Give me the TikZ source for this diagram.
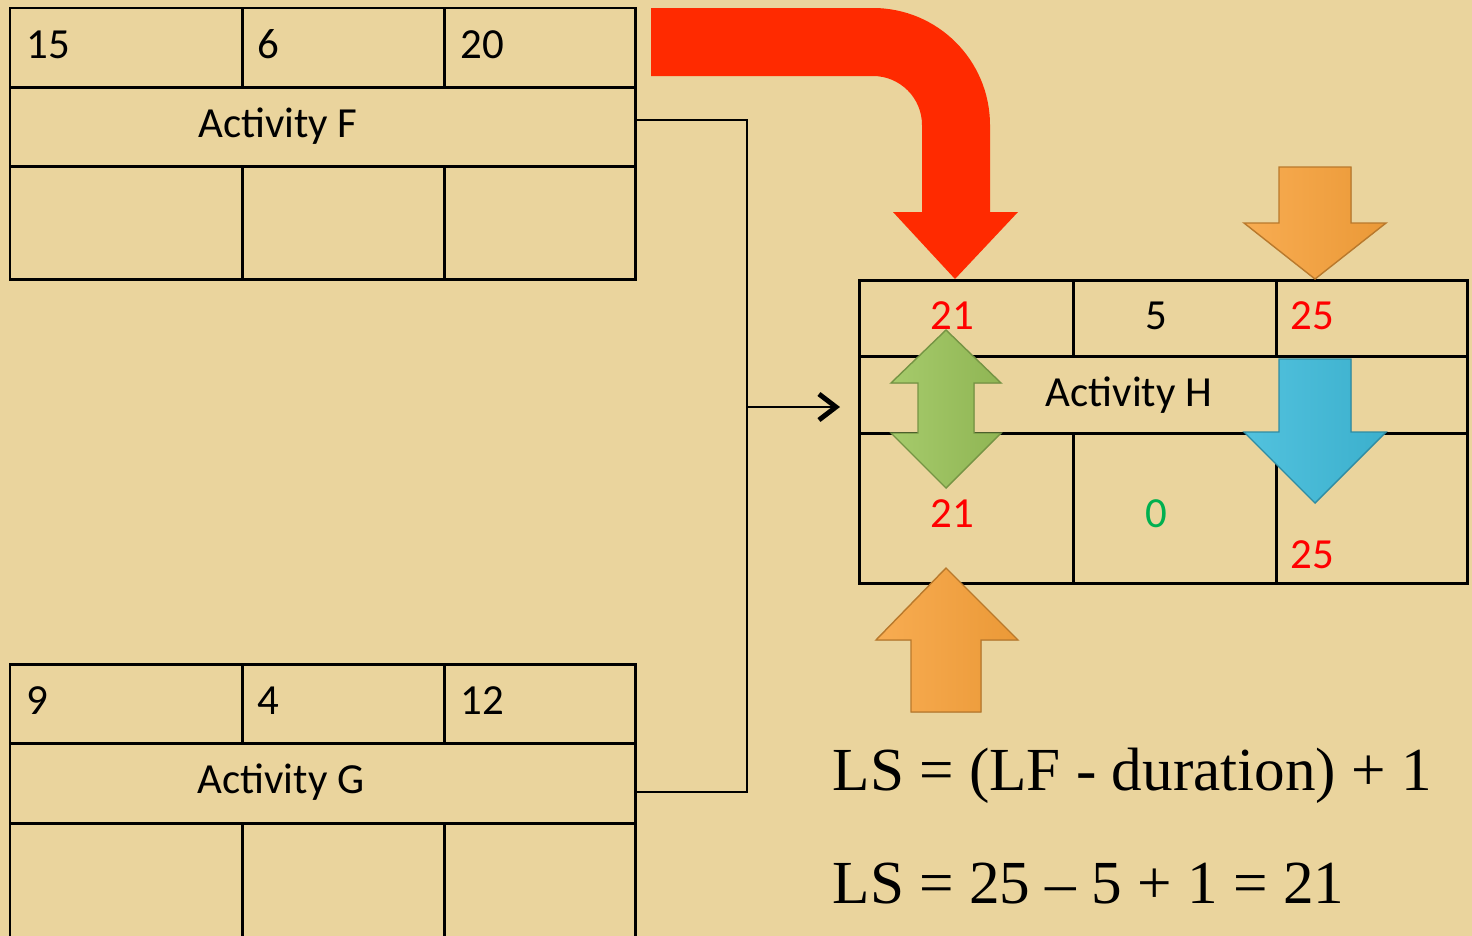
\documentclass[tikz,border=0pt]{standalone}
\usepackage{fontspec}
\setmainfont{Liberation Serif}
\newfontfamily\boxfont{Carlito}
\usetikzlibrary{arrows.meta,positioning}
\definecolor{Paper}{HTML}{EAD49D}
\definecolor{FlowRed}{HTML}{FF2A00}
\definecolor{CueOrange}{HTML}{F7A13A}
\definecolor{CueBlue}{HTML}{3FBBDA}
\definecolor{CueGreen}{HTML}{9CC55B}
\definecolor{NumRed}{HTML}{FF0000}
\definecolor{NumGreen}{HTML}{00B050}

\begin{document}
\begin{tikzpicture}[
  x=0.01cm,y=0.01cm,
  cell/.style={draw=black,line width=0.85pt,inner sep=0pt,outer sep=0pt,minimum height=0.79cm},
  num/.style={inner sep=0pt,font=\boxfont\fontsize{12.2}{14}\selectfont},
  act/.style={inner sep=0pt,anchor=base,font=\boxfont\fontsize{12.2}{14}\selectfont},
  eqn/.style={inner sep=0pt,anchor=base west,font=\fontsize{17.4}{21}\selectfont},
  link/.style={line width=0.55pt,draw=black},
  cueorange/.style={left color=CueOrange!88!white,right color=CueOrange!95!black,draw=CueOrange!75!black,line width=0.4pt},
  cueblue/.style={left color=CueBlue!90!white,right color=CueBlue!94!black,draw=CueBlue!75!black,line width=0.4pt},
  cuegreen/.style={left color=CueGreen!90!white,right color=CueGreen!92!black,draw=CueGreen!75!black,line width=0.4pt}
]
\useasboundingbox (0,0) rectangle (1472,-936);
\fill[Paper] (0,0) rectangle (1472,-936);

% activity F
\node[cell,anchor=north west,minimum width=2.32cm] (f1) at (10,-8) {};
\node[cell,right=0pt of f1,minimum width=2.02cm] (f2) {};
\node[cell,right=0pt of f2,minimum width=1.91cm] (f3) {};
\node[cell,below=0pt of f1.south west,anchor=north west,minimum width=6.25cm] (f4) {};
\node[cell,below=0pt of f4.south west,anchor=north west,minimum width=2.32cm,minimum height=1.13cm] (f5) {};
\node[cell,right=0pt of f5,minimum width=2.02cm,minimum height=1.13cm] (f6) {};
\node[cell,right=0pt of f6,minimum width=1.91cm,minimum height=1.13cm] (f7) {};

% activity G
\node[cell,anchor=north west,minimum width=2.32cm] (g1) at (10,-664) {};
\node[cell,right=0pt of g1,minimum width=2.02cm] (g2) {};
\node[cell,right=0pt of g2,minimum width=1.91cm] (g3) {};
\node[cell,below=0pt of g1.south west,anchor=north west,minimum width=6.25cm,minimum height=0.80cm] (g4) {};
\node[cell,below=0pt of g4.south west,anchor=north west,minimum width=2.32cm,minimum height=1.3cm] (g5) {};
\node[cell,right=0pt of g5,minimum width=2.02cm,minimum height=1.3cm] (g6) {};
\node[cell,right=0pt of g6,minimum width=1.91cm,minimum height=1.3cm] (g7) {};

% activity H
\node[cell,anchor=north west,minimum width=2.14cm,minimum height=0.76cm] (h1) at (859,-280) {};
\node[cell,right=0pt of h1,minimum width=2.03cm,minimum height=0.76cm] (h2) {};
\node[cell,right=0pt of h2,minimum width=1.91cm,minimum height=0.76cm] (h3) {};
\node[cell,below=0pt of h1.south west,anchor=north west,minimum width=6.08cm,minimum height=0.77cm] (h4) {};
\node[cell,below=0pt of h4.south west,anchor=north west,minimum width=2.14cm,minimum height=1.50cm] (h5) {};
\node[cell,right=0pt of h5,minimum width=2.03cm,minimum height=1.50cm] (h6) {};
\node[cell,right=0pt of h6,minimum width=1.91cm,minimum height=1.50cm] (h7) {};

% predecessor links
\coordinate (fout) at (635,-120);
\coordinate (gout) at (635,-792);
\coordinate (bus) at (747,-407);
\coordinate (hin) at (840,-407);
\draw[link] (fout) -| (bus) |- (gout);
\draw[link,-{Straight Barb[length=1.7mm,width=2.6mm,line width=1.4pt]}] (bus) -- (hin);

% red bent arrow
\fill[FlowRed] (651,-8) -- (873,-8) arc[start angle=90,end angle=0,radius=117]
  -- (990,-212) -- (1018,-212) -- (955,-279) -- (893,-212) -- (922,-212) -- (922,-125)
  arc[start angle=0,end angle=90,radius=49] -- (651,-76) -- cycle;

% block arrows
\filldraw[cueorange] (1279,-167) -- (1351,-167) -- (1351,-223) -- (1386,-223) -- (1315,-279)
  -- (1244,-223) -- (1279,-223) -- cycle;
\filldraw[cueblue] (1279,-359) -- (1351,-359) -- (1351,-432) -- (1386,-432) -- (1315,-503)
  -- (1244,-432) -- (1279,-432) -- cycle;
\filldraw[cueorange] (911,-712) -- (981,-712) -- (981,-640) -- (1018,-640) -- (946,-568)
  -- (876,-640) -- (911,-640) -- cycle;
\filldraw[cuegreen] (946,-330) -- (1001,-383) -- (974,-383) -- (974,-433) -- (1001,-433)
  -- (946,-488) -- (891,-433) -- (918,-433) -- (918,-383) -- (891,-383) -- cycle;

% labels
\node[num,right=1.6mm of f1.west,yshift=0.03cm] (fes) {15};
\node[num,right=1.5mm of f2.west,yshift=0.03cm] (fdur) {6};
\node[num,right=1.6mm of f3.west,yshift=0.03cm] (fef) {20};
\node[act] (fname) at (278,-137) {Activity F};
\node[num,right=1.6mm of g1.west,yshift=0.03cm] (ges) {9};
\node[num,right=1.5mm of g2.west,yshift=0.03cm] (gdur) {4};
\node[num,right=1.6mm of g3.west,yshift=0.03cm] (gef) {12};
\node[act] (gname) at (281,-793) {Activity G};
\node[num,text=NumRed] (hes) at (952,-316) {21};
\node[num] (hdur) at (1156,-316) {5};
\node[num,text=NumRed] (hef) at (1312,-316) {25};
\node[act] (hname) at (1129,-406) {Activity H};
\node[num,text=NumRed] (hls) at (952,-514) {21};
\node[num,text=NumGreen] (hslack) at (1156,-514) {0};
\node[num,text=NumRed] (hlf) at (1312,-555) {25};

% formulas
\node[eqn] (rule) at (832,-790) {LS = (LF - duration) + 1};
\node[eqn] (calc) at (832,-903) {LS = 25 – 5 + 1 = 21};
\end{tikzpicture}
\end{document}
